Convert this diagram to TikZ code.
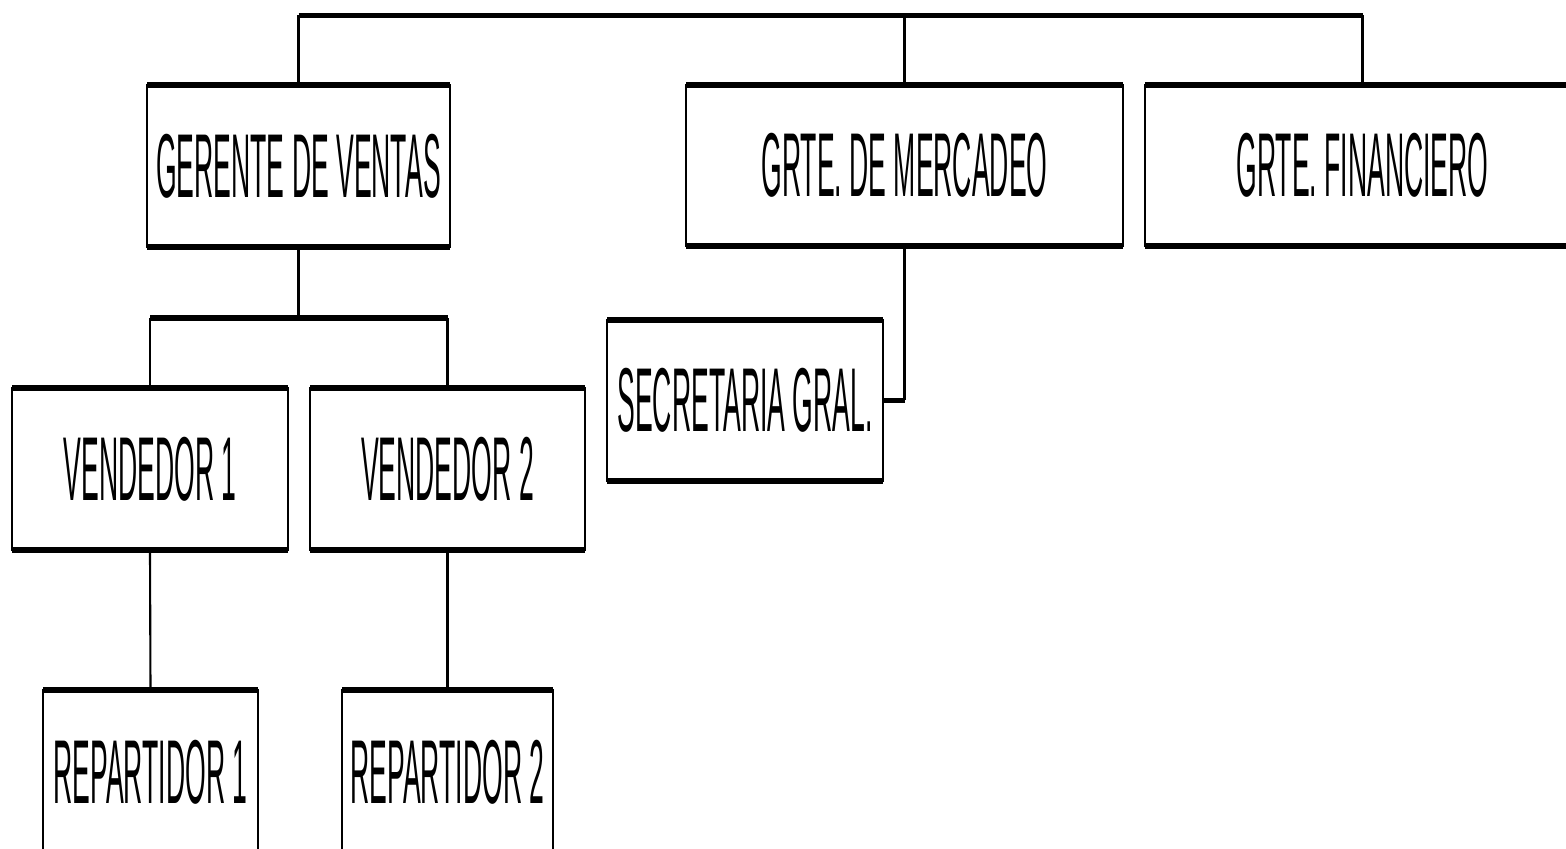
\documentclass[tikz,border=0pt]{standalone}
\usepackage{fontspec}
\newfontfamily\orgfont[FakeStretch=0.293]{Liberation Sans}
\usetikzlibrary{positioning, calc}
\tikzset{
	orgbox/.style={
			rectangle,
			draw=black,
			line width=0.6pt,
			fill=white,
			inner sep=0pt,
			outer sep=0pt,
			font=\orgfont\fontsize{25.8}{30}\selectfont
		},
	thickline/.style={
			draw=black,
			line width=1.7pt
		},
	thinline/.style={
			draw=black,
			line width=0.6pt
		}
}

\begin{document}
\begin{tikzpicture}
\useasboundingbox (0,0) rectangle (15.66,-8.49);
    \node[orgbox, minimum width=3.03cm, minimum height=1.62cm] (gerente) at (2.985,-1.66) {GERENTE DE VENTAS};
    \node[orgbox, minimum width=4.37cm, minimum height=1.61cm] (mercadeo) at (9.045,-1.655) {GRTE. DE MERCADEO};
    \node[orgbox, minimum width=4.35cm, minimum height=1.61cm] (financiero) at (13.625,-1.655) {GRTE. FINANCIERO};
    \node[orgbox, minimum width=2.76cm, minimum height=1.62cm] (vend1) at (1.50,-4.69) {VENDEDOR 1};
    \node[orgbox, minimum width=2.75cm, minimum height=1.62cm] (vend2) at (4.475,-4.69) {VENDEDOR 2};
    \node[orgbox, minimum width=2.76cm, minimum height=1.61cm] (secretaria) at (7.45,-4.005) {SECRETARIA GRAL.};
    \node[orgbox, minimum width=2.15cm, minimum height=1.64cm] (rep1) at (1.505,-7.72) {REPARTIDOR 1};
    \node[orgbox, minimum width=2.11cm, minimum height=1.64cm] (rep2) at (4.475,-7.72) {REPARTIDOR 2};

    % heavy top and bottom edges
    \foreach \n in {gerente,mercadeo,financiero,vend1,vend2,secretaria,rep1,rep2} {
        \draw[thickline] (\n.north west) -- (\n.north east);
        \draw[thickline] (\n.south west) -- (\n.south east);
    }

    \coordinate (bus) at (0,-0.155);
    \coordinate (split) at (0,-3.18);

    \draw[thickline] (gerente.north |- bus) -- (financiero.north |- bus);
    \foreach \n in {gerente,mercadeo,financiero}
        \draw[thinline] (\n.north) -- (\n.north |- bus);

    \draw[thinline] (gerente.south) -- (gerente.south |- split);
    \draw[thickline] (vend1.north |- split) -- (vend2.north |- split);
    \draw[thinline] (vend1.north) -- (vend1.north |- split);
    \draw[thinline] (vend2.north) -- (vend2.north |- split);

    \draw[thinline] (vend1.south) -- (rep1.north);
    \draw[thinline] (vend2.south) -- (rep2.north);

    \draw[thinline] (mercadeo.south) -- (mercadeo.south |- secretaria.east);
    \draw[thickline] (mercadeo.south |- secretaria.east) -- (secretaria.east);
\end{tikzpicture}
\end{document}
